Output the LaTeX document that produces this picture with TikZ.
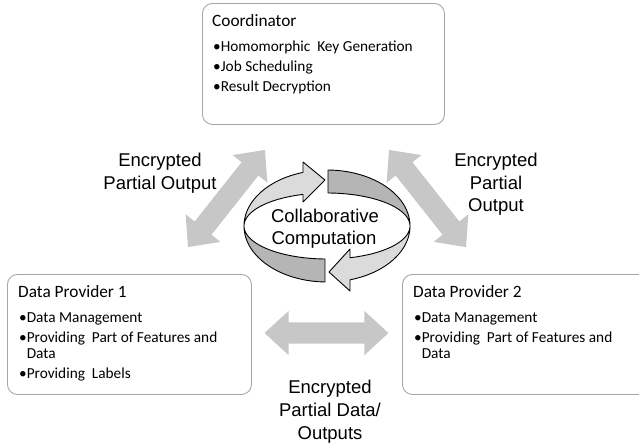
\documentclass[tikz,border=0pt]{standalone}
\usepackage{fontspec}
\setmainfont{Carlito}
\newfontfamily\labelfont{Liberation Sans}
\usetikzlibrary{shapes.arrows}

\tikzset{
  panel/.style={draw=black!35, line width=0.9pt, rounded corners=10pt, fill=white, inner sep=0pt},
  head/.style={anchor=base west, inner sep=0pt, font=\fontsize{17.3}{20}\selectfont},
  item/.style={anchor=base west, inner sep=0pt, font=\fontsize{15.3}{18}\selectfont},
  caption/.style={anchor=base, inner sep=0pt, font=\labelfont\fontsize{18.5}{22}\selectfont},
  flow/.style={double arrow, fill=black!22, draw=none, minimum height=124pt,
    minimum width=44pt, inner sep=0pt, inner ysep=10.5pt,
    double arrow head extend=11.5pt, double arrow tip angle=85},
  ringlight/.style={fill=black!14, draw=black, line width=0.9pt, line join=round},
  ringdark/.style={fill=black!29, draw=black, line width=0.9pt, line join=round},
}

\begin{document}
\begin{tikzpicture}[x=1pt, y=-1pt]
\useasboundingbox (0,0) rectangle (639,445);

% ---- role panels ----
\node[panel, anchor=north west, minimum width=242pt, minimum height=121pt] (coord) at (202,3) {};
\node[panel, anchor=north west, minimum width=244pt, minimum height=120pt] (dp1) at (7,274) {};
\node[panel, anchor=north west, minimum width=250pt, minimum height=120pt] (dp2) at (402,274) {};

% Coordinator
\node[head] (coordT) at (212,26) {Coordinator};
\node[item] (coordA) at (213,51) {•Homomorphic\ \ Key Generation};
\node[item] (coordB) at (213,71) {•Job Scheduling};
\node[item] (coordC) at (213,91) {•Result Decryption};

% Data Provider 1
\node[head] (dp1T) at (18,297) {Data Provider 1};
\node[item] (dp1A) at (19,322) {•Data Management};
\node[item] (dp1B) at (19,342) {•Providing\ \ Part of Features and};
\node[item] (dp1Bc) at (19,358) {\hphantom{•}Data};
\node[item] (dp1C) at (19,378) {•Providing\ \ Labels};

% Data Provider 2
\node[head] (dp2T) at (413,297) {Data Provider 2};
\node[item] (dp2A) at (414,322) {•Data Management};
\node[item] (dp2B) at (414,342) {•Providing\ \ Part of Features and};
\node[item] (dp2Bc) at (414,358) {\hphantom{•}Data};

% ---- exchange arrows ----
\node[flow, rotate=51.6] (leftflow) at (226.5,198.5) {};
\node[flow, rotate=-51.6] (rightflow) at (427.5,198.5) {};
\node[flow] (bottomflow) at (326.5,333) {};

\node[caption] (lA) at (160,166.5) {Encrypted};
\node[caption] (lB) at (160,189.5) {Partial Output};

\node[caption] (rA) at (496,166.5) {Encrypted};
\node[caption] (rB) at (496,189.5) {Partial};
\node[caption] (rC) at (496,211.5) {Output};

\node[caption] (bA) at (330,393.5) {Encrypted};
\node[caption] (bB) at (330,416.5) {Partial Data/};
\node[caption] (bC) at (330,439.5) {Outputs};

% ---- circular ribbon ----
% upper-left arrow (light)
\draw[ringlight]
  plot[domain=180:106.8, samples=40] ({327+83*cos(\x)},{226-56*sin(\x)})
  -- (303,162) -- (325,180) -- (303,202)
  -- plot[domain=106.8:180, samples=40] ({327+83*cos(\x)},{226-33*sin(\x)})
  -- cycle;
% upper-right tail (dark)
\draw[ringdark]
  plot[domain=89.3:0, samples=40] ({327+83*cos(\x)},{226-56*sin(\x)})
  -- plot[domain=0:89.3, samples=40] ({327+83*cos(\x)},{226-33*sin(\x)})
  -- cycle;
% lower-left tail (dark)
\draw[ringdark]
  plot[domain=180:268.6, samples=40] ({327+83*cos(\x)},{226-56*sin(\x)})
  -- plot[domain=268.6:180, samples=40] ({327+83*cos(\x)},{226-33*sin(\x)})
  -- cycle;
% lower-right arrow (light)
\draw[ringlight]
  plot[domain=360:286.1, samples=40] ({327+83*cos(\x)},{226-56*sin(\x)})
  -- (350,291) -- (329,272) -- (350,249)
  -- plot[domain=286.1:360, samples=40] ({327+83*cos(\x)},{226-33*sin(\x)})
  -- cycle;

\node[caption] (ringA) at (325,222.5) {Collaborative};
\node[caption] (ringB) at (324,244) {Computation};
\end{tikzpicture}
\end{document}
